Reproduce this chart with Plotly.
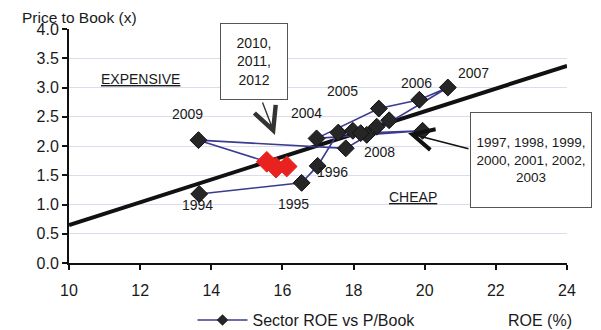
"""
Sector ROE vs Price-to-Book scatter, with fair-value trend line.
"""
import plotly.graph_objects as go

# yearly path (ROE %, P/B x)
years = ["1994", "1995", "1996", "1997", "1998", "1999", "2000", "2001",
         "2002", "2003", "2004", "2005", "2006", "2007", "2008", "2009"]
roe = [13.66, 16.54, 16.99, 17.57, 17.98, 18.37, 18.65, 19.0,
       18.2, 19.94, 16.96, 18.71, 19.85, 20.65, 17.78, 13.64]
pbook = [1.18, 1.37, 1.66, 2.23, 2.26, 2.19, 2.33, 2.44,
         2.22, 2.26, 2.13, 2.64, 2.79, 3.0, 1.96, 2.10]

# recent years highlighted
recent_years = ["2010", "2011", "2012"]
recent_roe = [15.56, 15.82, 16.12]
recent_pb = [1.73, 1.63, 1.65]

# regression line
trend_x = [10, 24]
trend_y = [0.65, 3.37]

# year labels: (text, x, y)
year_labels = [
    ("2009", 13.32, 2.55), ("1994", 13.6, 0.99), ("1995", 16.3, 1.01),
    ("1996", 17.42, 1.56), ("2004", 16.69, 2.56), ("2005", 17.70, 2.94),
    ("2006", 19.78, 3.08), ("2007", 21.36, 3.25), ("2008", 18.74, 1.90),
]

FONT = "Liberation Sans, Arial, sans-serif"
NAVY = "#3b3b8f"

fig = go.Figure()

fig.add_trace(go.Scatter(
    x=trend_x, y=trend_y, mode="lines",
    line=dict(color="#111111", width=4),
    showlegend=False, hoverinfo="skip",
))

fig.add_trace(go.Scatter(
    x=roe + recent_roe[:1], y=pbook + recent_pb[:1],
    mode="lines",
    line=dict(color=NAVY, width=1.6),
    showlegend=False, hoverinfo="skip",
))

fig.add_trace(go.Scatter(
    x=roe, y=pbook, mode="markers",
    marker=dict(symbol="diamond", size=13, color="#262626",
                line=dict(color="#111111", width=1)),
    text=years, name="Sector ROE vs P/Book",
    showlegend=False,
    hovertemplate="%{text}<br>ROE %{x:.1f}%<br>P/B %{y:.2f}x<extra></extra>",
))

fig.add_trace(go.Scatter(
    x=recent_roe, y=recent_pb, mode="markers",
    marker=dict(symbol="diamond", size=16, color="#e8231f",
                line=dict(color="#e8231f", width=1)),
    text=recent_years, showlegend=False,
    hovertemplate="%{text}<br>ROE %{x:.1f}%<br>P/B %{y:.2f}x<extra></extra>",
))

# legend entry (line + diamond)
fig.add_trace(go.Scatter(
    x=[None], y=[None], mode="lines+markers",
    line=dict(color=NAVY, width=1.6),
    marker=dict(symbol="diamond", size=9, color="#262626"),
    name="Sector ROE vs P/Book",
))

for txt, lx, ly in year_labels:
    fig.add_annotation(x=lx, y=ly, text=txt, showarrow=False,
                       font=dict(size=14, color="#1a1a1a"))

fig.add_annotation(x=12.0, y=3.15, text="<u>EXPENSIVE</u>", showarrow=False,
                   font=dict(size=14, color="#1a1a1a"))
fig.add_annotation(x=19.67, y=1.13, text="<u>CHEAP</u>", showarrow=False,
                   font=dict(size=14, color="#1a1a1a"))

# call-out boxes
fig.add_annotation(x=15.2, y=3.45, text="2010,<br>2011,<br>2012",
                   showarrow=False, width=64, height=73,
                   bordercolor="#555555", borderwidth=1, bgcolor="white",
                   font=dict(size=14, color="#1a1a1a"))
fig.add_annotation(x=22.99, y=1.76,
                   text="1997, 1998, 1999,<br>2000, 2001, 2002,<br>2003",
                   showarrow=False, width=118, height=92,
                   bordercolor="#555555", borderwidth=1, bgcolor="white",
                   font=dict(size=13.5, color="#1a1a1a"))

# arrows
fig.add_annotation(x=15.79, y=2.19, ax=-13, ay=-34, text="",
                   showarrow=True, arrowhead=5, arrowsize=3.2,
                   arrowwidth=1.4, arrowcolor="#333333")
fig.add_annotation(x=19.53, y=2.22, ax=62, ay=16, text="",
                   showarrow=True, arrowhead=5, arrowsize=2.6,
                   arrowwidth=1.6, arrowcolor="#111111")

# axis titles
fig.add_annotation(xref="paper", yref="paper", x=-0.098, y=1.05,
                   xanchor="left", yanchor="middle", text="Price to Book (x)",
                   showarrow=False, font=dict(size=15.5, color="#1a1a1a"))
fig.add_annotation(xref="paper", yref="paper", x=0.946, y=-0.244,
                   xanchor="center", yanchor="middle", text="ROE (%)",
                   showarrow=False, font=dict(size=16, color="#1a1a1a"))

# page body has an 8px margin, so the figure is a bit smaller than the window
fig.update_layout(
    width=593, height=322,
    margin=dict(l=61, r=34, t=21, b=67, autoexpand=False),
    paper_bgcolor="white", plot_bgcolor="white",
    font=dict(family=FONT, size=16, color="#1a1a1a"),
    xaxis=dict(range=[10, 24], dtick=2, showgrid=False, zeroline=False,
               showline=True, linecolor="#111111", linewidth=2,
               ticks="outside", ticklen=5, tickwidth=2, tickcolor="#111111",
               ticklabelstandoff=7),
    yaxis=dict(range=[0, 4], dtick=0.5, tickformat=".1f",
               showgrid=True, gridcolor="#dcdcef", gridwidth=1,
               zeroline=False, showline=True, linecolor="#111111",
               linewidth=2, ticks="outside", ticklen=5, tickwidth=2,
               tickcolor="#111111"),
    legend=dict(orientation="h", x=0.248, y=-0.244, xanchor="left",
                yanchor="middle", itemwidth=50, font=dict(size=16),
                bgcolor="rgba(0,0,0,0)"),
    showlegend=True,
)

fig.write_html("out.html")
